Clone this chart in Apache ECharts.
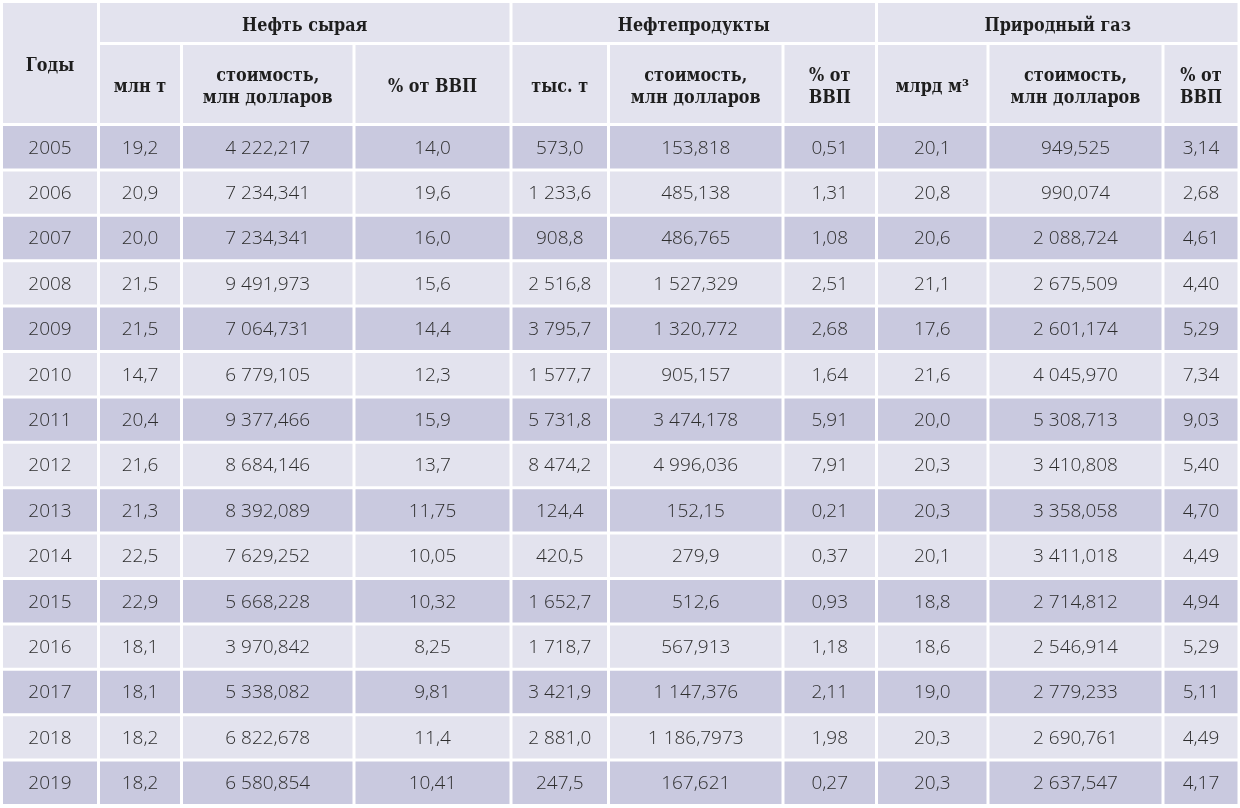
<!DOCTYPE html>
<html><head><meta charset="utf-8">
<script src="https://cdn.jsdelivr.net/npm/echarts@6/dist/echarts.min.js"></script>
<style>html,body{margin:0;padding:0;background:#fff}#c{width:1240px;height:808px}</style>
</head><body><div id="c"></div>
<script>
// ---- data ----
const years    = ['2005','2006','2007','2008','2009','2010','2011','2012','2013','2014','2015','2016','2017','2018','2019'];
const oilMt    = ['19,2','20,9','20,0','21,5','21,5','14,7','20,4','21,6','21,3','22,5','22,9','18,1','18,1','18,2','18,2'];
const oilCost  = ['4 222,217','7 234,341','7 234,341','9 491,973','7 064,731','6 779,105','9 377,466','8 684,146','8 392,089','7 629,252','5 668,228','3 970,842','5 338,082','6 822,678','6 580,854'];
const oilGdp   = ['14,0','19,6','16,0','15,6','14,4','12,3','15,9','13,7','11,75','10,05','10,32','8,25','9,81','11,4','10,41'];
const prodKt   = ['573,0','1 233,6','908,8','2 516,8','3 795,7','1 577,7','5 731,8','8 474,2','124,4','420,5','1 652,7','1 718,7','3 421,9','2 881,0','247,5'];
const prodCost = ['153,818','485,138','486,765','1 527,329','1 320,772','905,157','3 474,178','4 996,036','152,15','279,9','512,6','567,913','1 147,376','1 186,7973','167,621'];
const prodGdp  = ['0,51','1,31','1,08','2,51','2,68','1,64','5,91','7,91','0,21','0,37','0,93','1,18','2,11','1,98','0,27'];
const gasBcm   = ['20,1','20,8','20,6','21,1','17,6','21,6','20,0','20,3','20,3','20,1','18,8','18,6','19,0','20,3','20,3'];
const gasCost  = ['949,525','990,074','2 088,724','2 675,509','2 601,174','4 045,970','5 308,713','3 410,808','3 358,058','3 411,018','2 714,812','2 546,914','2 779,233','2 690,761','2 637,547'];
const gasGdp   = ['3,14','2,68','4,61','4,40','5,29','7,34','9,03','5,40','4,70','4,49','4,94','5,29','5,11','4,49','4,17'];
const groupHeaders = ['Нефть сырая','Нефтепродукты','Природный газ'];
const subHeaders   = ['млн т','стоимость,\nмлн долларов','% от ВВП','тыс. т','стоимость,\nмлн долларов','% от\nВВП','млрд м³','стоимость,\nмлн долларов','% от\nВВП'];
const yearHeader   = 'Годы';

// ---- layout (not data) ----
const colEdges = [1.5, 98.5, 181.5, 354, 511, 608.5, 783, 876.5, 988, 1163, 1239];
const headTop = 1.5, headMid = 43.5, headBottom = 124.5, rowH = 45.4;
const columns = [years, oilMt, oilCost, oilGdp, prodKt, prodCost, prodGdp, gasBcm, gasCost, gasGdp];

const cells = [];   // [x0,x1,y0,y1,kind]
const texts = [];
function addCell(x0,x1,y0,y1,kind,text){cells.push([x0,x1,y0,y1,kind]);texts.push(text);}
// header
addCell(colEdges[0], colEdges[1], headTop, headBottom, 0, yearHeader);
for (let g=0; g<3; g++) addCell(colEdges[1+g*3], colEdges[4+g*3], headTop, headMid, 0, groupHeaders[g]);
for (let c=0; c<9; c++) addCell(colEdges[c+1], colEdges[c+2], headMid, headBottom, 0, subHeaders[c]);
// body
for (let r=0; r<years.length; r++){
  const y0 = headBottom + r*rowH, y1 = y0 + rowH;
  for (let c=0; c<columns.length; c++) addCell(colEdges[c], colEdges[c+1], y0, y1, r%2===0 ? 1 : 2, columns[c][r]);
}

const fills = ['#e3e3ee', '#c9c9df', '#e3e3ee'];
const chart = echarts.init(document.getElementById('c'), null, {renderer:'canvas'});
chart.setOption({
  backgroundColor:'#ffffff',
  animation:false,
  grid:{left:0,right:0,top:0,bottom:0},
  xAxis:{type:'value',min:0,max:1240,show:false},
  yAxis:{type:'value',min:0,max:808,inverse:true,show:false},
  series:[{
    type:'custom',
    data:cells,
    encode:{x:[0,1],y:[2,3]},
    renderItem:function(params, api){
      const p0 = api.coord([api.value(0), api.value(2)]);
      const p1 = api.coord([api.value(1), api.value(3)]);
      const kind = api.value(4);
      const g = 1.5;
      const x = Math.min(p0[0],p1[0]) + g, y = Math.min(p0[1],p1[1]) + g;
      const w = Math.abs(p1[0]-p0[0]) - 2*g, h = Math.abs(p1[1]-p0[1]) - 2*g;
      const isHead = kind === 0;
      const cx = x + w/2, cy = y + h/2 + (isHead ? 3.5 : 1);
      const textEl = isHead ? {
        type:'text', x:cx, y:cy, scaleX:0.89, scaleY:1,
        style:{
          text:texts[params.dataIndex], x:0, y:0,
          align:'center', verticalAlign:'middle',
          fontFamily:'DejaVu Serif', fontWeight:'bold', fontSize:18, lineHeight:22,
          fill:'#1e1e1e'
        }
      } : {
        type:'text',
        style:{
          text:texts[params.dataIndex], x:cx, y:cy,
          align:'center', verticalAlign:'middle',
          fontFamily:'Open Sans', fontWeight:300, fontSize:19, lineHeight:22,
          fill:'#2e2e2e'
        }
      };
      return {
        type:'group',
        children:[
          {type:'rect', shape:{x:x,y:y,width:w,height:h}, style:{fill:fills[kind]}},
          textEl
        ]
      };
    }
  }]
});
</script></body></html>
